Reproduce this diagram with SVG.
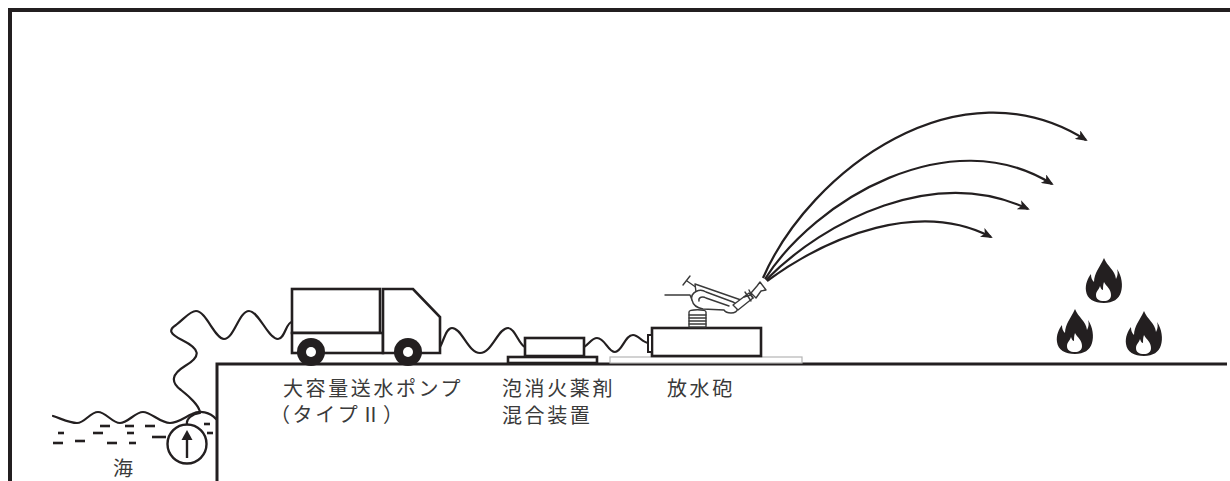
<svg xmlns="http://www.w3.org/2000/svg" width="1230" height="481" viewBox="0 0 1230 481">
  <defs>
    <style>
      .frame { fill: none; stroke: #231f20; stroke-width: 4; }
      .ground { fill: none; stroke: #231f20; stroke-width: 3; }
      .hose { fill: none; stroke: #231f20; stroke-width: 2.2; stroke-linejoin: round; stroke-linecap: round; }
      .body { fill: #fff; stroke: #231f20; stroke-width: 2.6; }
      .thin { fill: none; stroke: #3a3a3a; stroke-width: 1.4; stroke-linecap: round; stroke-linejoin: round; }
      .thinf { fill: #fff; stroke: #3a3a3a; stroke-width: 1.4; stroke-linejoin: round; }
      .jet { fill: none; stroke: #231f20; stroke-width: 2.2; marker-end: url(#arrow); }
      .dash { stroke: #231f20; stroke-width: 2.6; }
      .label { font-family: "Noto Sans CJK JP", "Noto Sans", sans-serif; font-size: 20px; fill: #3a3a3a; letter-spacing: 2.6px; }
    </style>
    <marker id="arrow" viewBox="0 0 12 10" refX="10" refY="5" markerWidth="12" markerHeight="10" markerUnits="userSpaceOnUse" orient="auto">
      <path d="M0,0 L12,5 L0,10 L3,5 Z" fill="#231f20"/>
    </marker>
    <g id="flame">
      <path d="M19,0 C22,8 30,12 31,21 C33,17 33,14 32,11 C37,18 38,28 36,34 C34,41 28,45 19,45 C9,45 2,41 1,33 C0,26 3,20 6,16 C6,20 7,22 9,24 C9,15 15,9 19,0 Z" fill="#231f20"/>
      <path d="M19,24 C21,28 26,31 26,37 C26,41 23,43 19,43 C14,43 11,41 11,37 C11,33 14,32 15,28 C16,31 17,32 18,32 C18,29 18,27 19,24 Z" fill="#fff"/>
    </g>
  </defs>

  <rect width="1230" height="481" fill="#fff"/>

  <!-- outer frame (top and left edges) -->
  <path class="frame" d="M10,481 L10,10 L1230,10"/>

  <!-- quay wall and ground surface -->
  <path class="ground" d="M217,481 L217,364 L1227,364"/>

  <!-- sea -->
  <g id="sea">
    <path class="hose" d="M53,416 C62,419 70,423 77,423 C85,423 90,412 98,412 C106,412 112,423 120,423 C128,423 135,412 143,412 C151,412 160,423 170,423 C178,423 185,417 192,414 C200,410 210,412 216,419"/>
    <g class="dash">
      <line x1="100" y1="426" x2="110" y2="426"/>
      <line x1="125" y1="426" x2="134" y2="426"/>
      <line x1="145" y1="426" x2="155" y2="426"/>
      <line x1="204" y1="424" x2="210" y2="424"/>
      <line x1="58" y1="433" x2="64" y2="433"/>
      <line x1="93" y1="433" x2="103" y2="433"/>
      <line x1="127" y1="433" x2="134" y2="433"/>
      <line x1="152" y1="437" x2="166" y2="437"/>
      <line x1="207" y1="433" x2="213" y2="433"/>
      <line x1="53" y1="443" x2="63" y2="443"/>
      <line x1="75" y1="441" x2="85" y2="441"/>
      <line x1="107" y1="443" x2="117" y2="443"/>
      <line x1="129" y1="443" x2="136" y2="443"/>
    </g>
    <text class="label" x="113" y="476">海</text>
  </g>

  <!-- suction pump in the sea -->
  <g id="suction-pump">
    <circle cx="187" cy="444" r="19.5" fill="#fff" stroke="#231f20" stroke-width="2.4"/>
    <line x1="187" y1="458" x2="187" y2="438" stroke="#231f20" stroke-width="2.4"/>
    <path d="M181.5,440 L187,430 L192.5,440 Z" fill="#231f20"/>
  </g>

  <!-- hoses -->
  <g id="hoses">
    <path class="hose" d="M187,424 C186,419 192,414 200,413 C200,407 190,397 181,390 C170,382 172,374 185,366 C202,356 200,349 182,340 C170,334 168,330 176,325 C185,318 190,311 196,311 C206,311 215,339 224,339 C234,339 239,311 249,311 C259,311 268,339 278,339 C285,339 286,322 292,322"/>
    <path class="hose" d="M440,347 C444,340 446,328 452,328 C462,328 468,353 480,353 C492,353 498,328 508,328 C515,328 519,345 525,347"/>
    <path class="hose" d="M584,347 C589,344 592,338 597,338 C605,338 608,352 615,352 C622,352 625,335 633,335 C639,335 642,343 649,343"/>
  </g>

  <!-- high-volume water pump truck -->
  <g id="pump-truck">
    <rect class="body" x="292" y="289" width="88" height="44"/>
    <rect class="body" x="292" y="333" width="91" height="20"/>
    <path class="body" d="M383,289 L413,289 L440,317 L440,353 L383,353 Z"/>
    <circle cx="311" cy="352" r="14" fill="#231f20"/>
    <circle cx="311" cy="352" r="5" fill="#fff"/>
    <circle cx="408" cy="352" r="14" fill="#231f20"/>
    <circle cx="408" cy="352" r="5" fill="#fff"/>
    <text class="label" x="283" y="396">大容量送水ポンプ</text>
    <text class="label" x="270" y="422">（タイプⅡ）</text>
  </g>

  <!-- foam proportioning unit -->
  <g id="foam-mixer">
    <rect class="body" x="508" y="357" width="89" height="6"/>
    <rect class="body" x="525" y="338" width="59" height="18"/>
    <text class="label" x="502" y="396">泡消火薬剤</text>
    <text class="label" x="502" y="423">混合装置</text>
  </g>

  <!-- water cannon -->
  <g id="water-cannon">
    <rect x="610" y="357" width="192" height="6" fill="#fff" stroke="#b5b5b5" stroke-width="1.2"/>
    <rect class="body" x="652" y="328" width="109" height="28"/>
    <rect x="648" y="335" width="4" height="17" fill="#fff" stroke="#231f20" stroke-width="2"/>
    <!-- swivel base -->
    <path class="thinf" d="M689,327 L689,312 C689,309 706,309 706,312 L706,327 Z"/>
    <g class="thin">
      <line x1="689" y1="315" x2="706" y2="315"/>
      <line x1="689" y1="318" x2="706" y2="318"/>
      <line x1="689" y1="321" x2="706" y2="321"/>
      <line x1="689" y1="324" x2="706" y2="324"/>
      <path d="M665,295 L690,295 L692,300"/>
      <path d="M683,285 L690,276"/>
      <path d="M687,281 L697,288"/>
    </g>
    <!-- barrel and loop -->
    <path class="thinf" d="M695,284 L741,300 L738,306 L696,292 Z"/>
    <path class="thinf" d="M692,300 C690,292 700,288 706,292 L733,302 C740,305 739,313 731,313 C726,313 724,310 724,310 L703,309 C697,308 693,305 692,300 Z"/>
    <path class="thin" d="M699,301 C698,297 703,296 706,298 L729,306"/>
    <!-- nozzle -->
    <path class="thinf" d="M733,305 L749,293 L753,298 L738,310 Z"/>
    <path class="thin" d="M745,292 L751,301 M749,290 L753,298 M744,297 L754,294"/>
    <path class="thinf" d="M751,293 L757,286 L760,282 L766,290 L761,291 L756,298 Z"/>
    <text class="label" x="667" y="396">放水砲</text>
  </g>

  <!-- water jets -->
  <g id="jets">
    <path class="jet" d="M763,278 C810,170 960,60 1086,140"/>
    <path class="jet" d="M765,279 C815,200 950,120 1052,184"/>
    <path class="jet" d="M766,280 C825,220 935,165 1028,209"/>
    <path class="jet" d="M767,281 C830,235 920,200 991,237"/>
  </g>

  <!-- fire -->
  <g id="fire">
    <use href="#flame" x="1085" y="258"/>
    <use href="#flame" x="1056" y="309"/>
    <use href="#flame" x="1125" y="311"/>
  </g>
</svg>
